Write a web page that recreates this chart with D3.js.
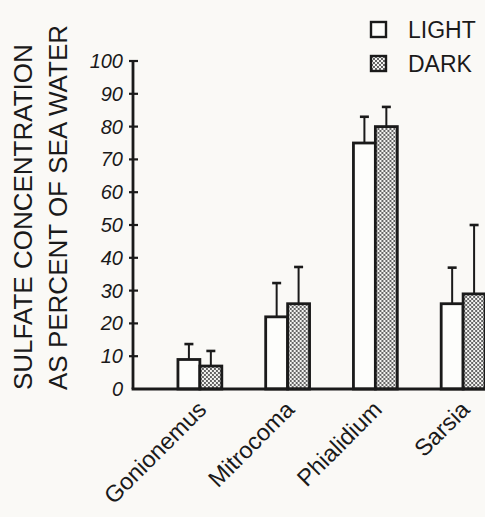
<!DOCTYPE html>
<html>
<head>
<meta charset="utf-8">
<script src="https://cdn.jsdelivr.net/npm/d3@7"></script>
<style>
  body { margin: 0; background: #faf9f6; }
  svg { display: block; }
  text { font-family: "Liberation Sans", Arial, sans-serif; fill: #1a1a1a; }
</style>
</head>
<body>
<div id="chart"></div>
<script>
// data
var species = ["Gonionemus", "Mitrocoma", "Phialidium", "Sarsia"];
var series = ["LIGHT", "DARK"];
var lightMean = [9, 22, 75, 26];
var lightErr = [4.7, 10.3, 8, 11];
var darkMean = [7, 26, 80, 29];
var darkErr = [4.6, 11.2, 6, 21];
var yTicks = [0, 10, 20, 30, 40, 50, 60, 70, 80, 90, 100];

var width = 485;
var height = 517;

var svg = d3.select("#chart")
	.append("svg")
	.attr("width", width)
	.attr("height", height);

// stipple pattern for the dark bars
var defs = svg.append("defs");
var pat = defs.append("pattern")
	.attr("id", "stipple")
	.attr("patternUnits", "userSpaceOnUse")
	.attr("width", 4)
	.attr("height", 4);
pat.append("rect").attr("width", 4).attr("height", 4).attr("fill", "#f4f4f2");
pat.append("circle").attr("cx", 1).attr("cy", 1).attr("r", 0.9).attr("fill", "#222");
pat.append("circle").attr("cx", 3).attr("cy", 3).attr("r", 0.9).attr("fill", "#222");

var axisX = 133;
var y = d3.scaleLinear().domain([0, 100]).range([389, 61]);

var x0 = d3.scaleBand()
	.domain(species)
	.range([156, 507])
	.paddingInner(0.5)
	.paddingOuter(0.25);

var x1 = d3.scaleBand()
	.domain(series)
	.range([0, x0.bandwidth()]);

var rows = species.map(function(s, i) {
	return {
		name: s,
		bars: [
			{ key: "LIGHT", v: lightMean[i], e: lightErr[i] },
			{ key: "DARK", v: darkMean[i], e: darkErr[i] }
		]
	};
});

// y axis
var yAxis = d3.axisLeft(y)
	.tickValues(yTicks)
	.tickSize(0)
	.tickPadding(10);

var gy = svg.append("g")
	.attr("transform", "translate(" + axisX + ",0)")
	.call(yAxis);
gy.select(".domain").remove();
gy.selectAll("text")
	.attr("font-size", 20)
	.attr("font-style", "italic")
	.attr("fill", "#1a1a1a");

svg.append("line")
	.attr("x1", axisX).attr("x2", axisX)
	.attr("y1", y(100)).attr("y2", y(0))
	.attr("stroke", "#1a1a1a").attr("stroke-width", 2.8);

svg.append("g")
	.selectAll("line")
	.data(yTicks.filter(function(d) { return d > 0; }))
	.enter()
	.append("line")
	.attr("x1", axisX - 4).attr("x2", axisX + 5)
	.attr("y1", function(d) { return y(d); })
	.attr("y2", function(d) { return y(d); })
	.attr("stroke", "#1a1a1a").attr("stroke-width", 2.2);

// bars
var groups = svg.append("g")
	.selectAll("g")
	.data(rows)
	.enter()
	.append("g")
	.attr("transform", function(d) { return "translate(" + x0(d.name) + ",0)"; });

// error bars (upward only)
groups.selectAll(".err")
	.data(function(d) { return d.bars; })
	.enter()
	.append("line")
	.attr("x1", function(d) { return x1(d.key) + x1.bandwidth() / 2; })
	.attr("x2", function(d) { return x1(d.key) + x1.bandwidth() / 2; })
	.attr("y1", function(d) { return y(d.v); })
	.attr("y2", function(d) { return y(d.v + d.e); })
	.attr("stroke", "#1a1a1a").attr("stroke-width", 2);

groups.selectAll(".cap")
	.data(function(d) { return d.bars; })
	.enter()
	.append("line")
	.attr("x1", function(d) { return x1(d.key) + x1.bandwidth() / 2 - 4.5; })
	.attr("x2", function(d) { return x1(d.key) + x1.bandwidth() / 2 + 4.5; })
	.attr("y1", function(d) { return y(d.v + d.e); })
	.attr("y2", function(d) { return y(d.v + d.e); })
	.attr("stroke", "#1a1a1a").attr("stroke-width", 2.6);

groups.selectAll("rect")
	.data(function(d) { return d.bars; })
	.enter()
	.append("rect")
	.attr("x", function(d) { return x1(d.key); })
	.attr("y", function(d) { return y(d.v); })
	.attr("width", x1.bandwidth())
	.attr("height", function(d) { return y(0) - y(d.v); })
	.attr("fill", function(d) { return d.key == "DARK" ? "url(#stipple)" : "#fdfdfb"; })
	.attr("stroke", "#1a1a1a")
	.attr("stroke-width", 2.8);

// baseline
svg.append("line")
	.attr("x1", axisX - 1.4).attr("x2", width)
	.attr("y1", y(0)).attr("y2", y(0))
	.attr("stroke", "#1a1a1a").attr("stroke-width", 2.8);

// category labels
svg.append("g")
	.selectAll("text")
	.data(species)
	.enter()
	.append("text")
	.attr("transform", function(d) {
		return "translate(" + (x0(d) + x0.bandwidth() / 2 + 8) + ",411) rotate(-45)";
	})
	.attr("text-anchor", "end")
	.attr("font-size", 23.5)
	.text(function(d) { return d; });

// y title
var titleLines = ["SULFATE CONCENTRATION", "AS PERCENT OF SEA WATER"];
svg.append("g")
	.selectAll("text")
	.data(titleLines)
	.enter()
	.append("text")
	.attr("transform", function(d, i) {
		return "translate(" + (32 + i * 35) + ",390) rotate(-90)";
	})
	.attr("font-size", 26)
	.text(function(d) { return d; });

// legend
var legend = svg.append("g")
	.selectAll("g")
	.data(series)
	.enter()
	.append("g")
	.attr("transform", function(d, i) { return "translate(371," + (22 + i * 34) + ")"; });

legend.append("rect")
	.attr("width", 15).attr("height", 15)
	.attr("fill", function(d) { return d == "DARK" ? "url(#stipple)" : "#fdfdfb"; })
	.attr("stroke", "#1a1a1a").attr("stroke-width", 2.4);

legend.append("text")
	.attr("x", 37).attr("y", 15.5)
	.attr("font-size", 23)
	.text(function(d) { return d; });
</script>
</body>
</html>
